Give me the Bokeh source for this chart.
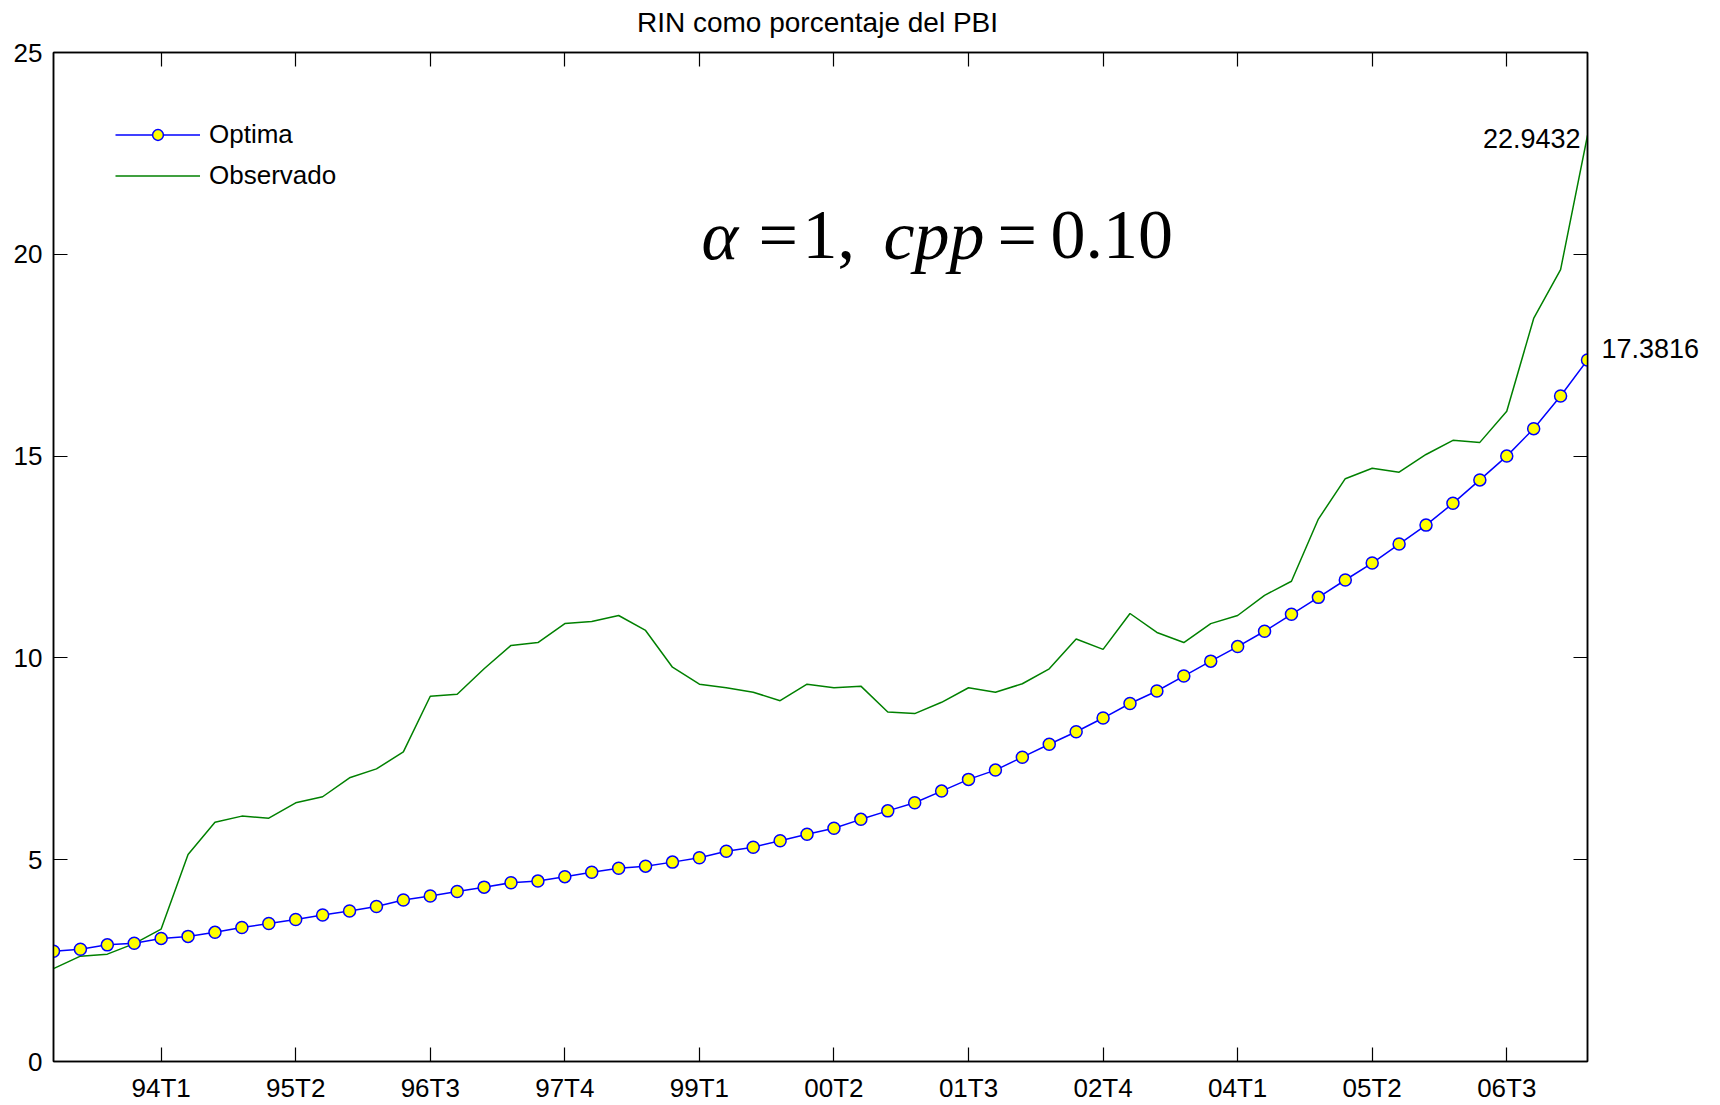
from bokeh.plotting import figure
from bokeh.models import (Range1d, FixedTicker, LinearAxis, Legend, LegendItem,
                          Label)
from bokeh.embed import file_html
from bokeh.resources import INLINE

# ---------------- data ----------------
optima = [2.73, 2.78, 2.89, 2.93, 3.05, 3.10, 3.20, 3.32, 3.42, 3.52,
          3.63, 3.73, 3.84, 4.00, 4.10, 4.21, 4.32, 4.43, 4.47, 4.58,
          4.69, 4.79, 4.84, 4.94, 5.05, 5.21, 5.31, 5.47, 5.63, 5.78,
          6.00, 6.21, 6.41, 6.70, 6.99, 7.22, 7.54, 7.86, 8.17, 8.51,
          8.87, 9.18, 9.55, 9.92, 10.28, 10.66, 11.08, 11.50, 11.93, 12.35,
          12.82, 13.29, 13.83, 14.41, 15.00, 15.68, 16.49, 17.3816]

observado = [2.30, 2.61, 2.66, 2.92, 3.28, 5.13, 5.93, 6.08, 6.03, 6.41,
             6.56, 7.03, 7.25, 7.67, 9.05, 9.10, 9.73, 10.31, 10.38, 10.85,
             10.90, 11.05, 10.68, 9.77, 9.35, 9.26, 9.15, 8.94, 9.35, 9.26,
             9.30, 8.66, 8.62, 8.90, 9.26, 9.15, 9.36, 9.73, 10.47, 10.21,
             11.10, 10.63, 10.38, 10.85, 11.05, 11.55, 11.90, 13.44, 14.44, 14.70,
             14.60, 15.04, 15.39, 15.34, 16.11, 18.41, 19.62, 22.9432]

tick_labels = ["94T1", "95T2", "96T3", "97T4", "99T1", "00T2",
               "01T3", "02T4", "04T1", "05T2", "06T3"]
y_ticks = [0, 5, 10, 15, 20, 25]
title_text = "RIN como porcentaje del PBI"

# quarters 93T1 ... 07T2
periods = [f"{(93 + i // 4) % 100:02d}T{i % 4 + 1}" for i in range(len(optima))]
x = list(range(len(periods)))
tick_idx = [periods.index(t) for t in tick_labels]

SANS = "Liberation Sans"
SERIF = "Liberation Serif"

p = figure(width=1720, height=1105,
           x_range=Range1d(0, len(x) - 1), y_range=Range1d(0, 25),
           output_backend="svg", toolbar_location=None,
           min_border_left=53, min_border_right=133,
           min_border_top=52, min_border_bottom=42)

p.xgrid.visible = False
p.ygrid.visible = False
p.outline_line_color = "black"
p.outline_line_width = 1.5

for ax in (p.xaxis[0], p.yaxis[0]):
    ax.major_tick_in = 14
    ax.major_tick_out = 0
    ax.minor_tick_line_color = None
    ax.axis_line_width = 1.5
    ax.major_tick_line_width = 1.2
    ax.major_label_text_font = SANS
    ax.major_label_text_font_size = "26px"
    ax.major_label_text_color = "black"

p.xaxis.ticker = FixedTicker(ticks=tick_idx)
p.xaxis.major_label_overrides = {i: t for i, t in zip(tick_idx, tick_labels)}
p.xaxis.major_label_standoff = 11
p.yaxis.ticker = FixedTicker(ticks=y_ticks)
p.yaxis.major_label_standoff = 11

top_ax = LinearAxis(ticker=FixedTicker(ticks=tick_idx),
                    major_label_overrides={i: "" for i in tick_idx},
                    major_label_text_font_size="1px", major_label_standoff=0,
                    major_tick_in=14, major_tick_out=0, major_tick_line_width=1.2,
                    minor_tick_line_color=None, axis_line_width=1.5)
right_ax = LinearAxis(ticker=FixedTicker(ticks=y_ticks),
                      major_label_overrides={v: "" for v in y_ticks},
                      major_label_text_font_size="1px", major_label_standoff=0,
                      major_tick_in=14, major_tick_out=0, major_tick_line_width=1.2,
                      minor_tick_line_color=None, axis_line_width=1.5)
p.add_layout(top_ax, "above")
p.add_layout(right_ax, "right")

# ---------------- title (placed in the top panel) ----------------
p.add_layout(Label(x=(len(x) - 1) / 2, y=25, text=title_text,
                   text_align="center", text_baseline="middle",
                   x_offset=-3, y_offset=30, text_font=SANS,
                   text_font_size="28px", text_color="black"), "above")

# ---------------- series ----------------
l_obs = p.line(x, observado, line_color="#008000", line_width=1.5)
l_opt = p.line(x, optima, line_color="#0000ff", line_width=1.5)
s_opt = p.scatter(x, optima, marker="circle", size=12, fill_color="#ffff00",
                  line_color="#0000ff", line_width=1.5)

legend = Legend(items=[LegendItem(label="Optima", renderers=[l_opt, s_opt]),
                       LegendItem(label="Observado", renderers=[l_obs])],
                location=(62, 870), padding=0, margin=0, spacing=10,
                glyph_width=85, glyph_height=27, label_height=27,
                label_standoff=9, label_text_font=SANS,
                label_text_font_size="26px", label_text_color="black",
                border_line_color=None, background_fill_alpha=0)
p.add_layout(legend)

# ---------------- end-value labels ----------------
p.add_layout(Label(x=x[-1], y=observado[-1], text=f"{observado[-1]:.4f}",
                   text_align="right", text_baseline="middle",
                   x_offset=-7, y_offset=-3, text_font=SANS,
                   text_font_size="27px", text_color="black"))
p.add_layout(Label(x=x[-1], y=optima[-1], text=f"{optima[-1]:.4f}",
                   text_align="left", text_baseline="middle",
                   x_offset=14, y_offset=11, text_font=SANS,
                   text_font_size="27px", text_color="black"), "right")

# ---------------- formula annotation ----------------
formula_y = 20.47
pieces = [(24.08, "\u03b1", "italic"), (26.2, "=", "normal"),
          (27.83, "1,", "normal"), (30.84, "cpp", "italic"),
          (35.08, "=", "normal"), (37.05, "0.10", "normal")]
for px, txt, style in pieces:
    p.add_layout(Label(x=px, y=formula_y, text=txt, text_align="left",
                       text_baseline="alphabetic", text_font=SERIF,
                       text_font_style=style, text_font_size="70px",
                       text_color="black"))

open("out.html", "w").write(file_html(p, INLINE))
